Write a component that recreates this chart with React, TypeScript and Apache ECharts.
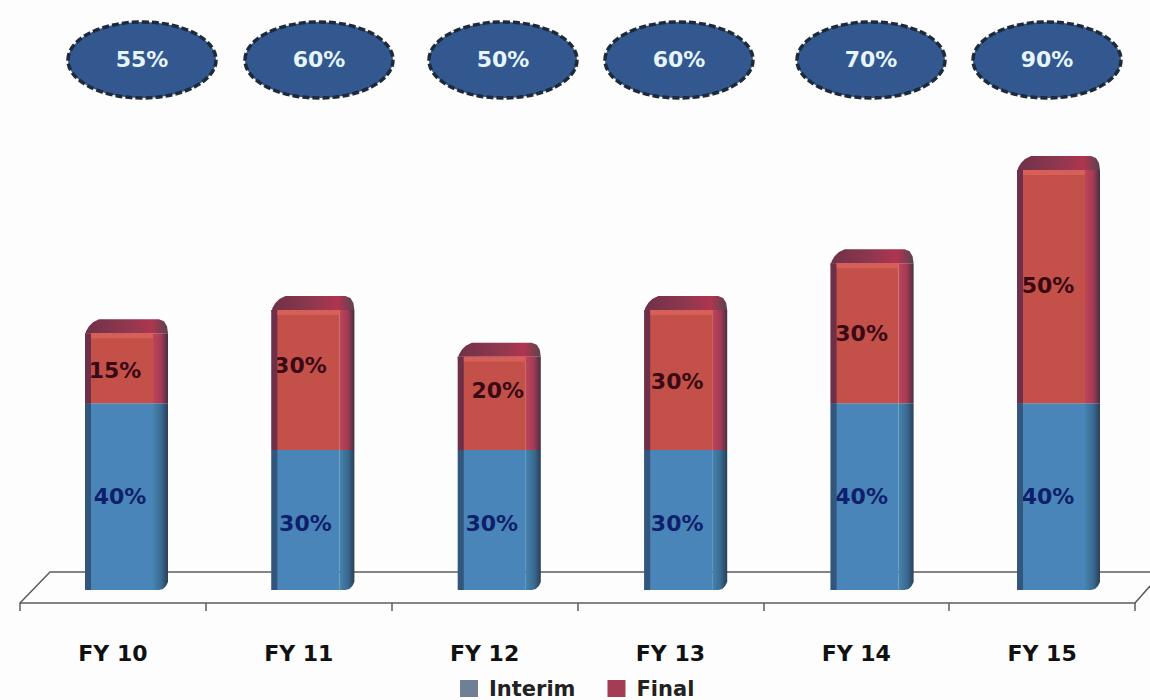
import React, { useEffect, useRef } from "react";
import * as echarts from "echarts";

const categories = ["FY 10", "FY 11", "FY 12", "FY 13", "FY 14", "FY 15"];
const interim = [40, 30, 30, 30, 40, 40];
const finalPay = [15, 30, 20, 30, 30, 50];
const totals = ["55%", "60%", "50%", "60%", "70%", "90%"];
const ovalCentres = [142, 319, 503, 679, 871, 1047];
const interimLabelShift = [[1, 0], [0, 3], [0, 3], [-1, 3], [-3, 0], [-3, 0]];
const finalLabelShift = [[-4, 2], [-5, -15], [6, -13], [-1, 1], [-3, 0], [-3, -1]];

const W = 1150;
const H = 700;
const FRONT = 68;
const SIDE = 15;
const CAP = 14;
const EDGE = 6;
const BLUE = "#4a85b9";
const RED = "#c4504a";

function sideFill(c1: string, c2: string, c3: string) {
  return new echarts.graphic.LinearGradient(0, 0, 1, 0, [
    { offset: 0, color: c1 },
    { offset: 0.55, color: c2 },
    { offset: 1, color: c3 },
  ]);
}

function renderBar3D(_p: any, api: any) {
  const i = api.value(0);
  const base = api.coord([i, 0]);
  const mid = api.coord([i, api.value(1)]);
  const top = api.coord([i, api.value(2)]);
  const x1 = base[0] - FRONT / 2;
  const x2 = base[0] + FRONT / 2;
  const xr = x2 + SIDE;
  const yt = top[1];
  const ym = mid[1];
  const yb = base[1];
  return {
    type: "group",
    children: [
      {
        type: "polygon",
        shape: {
          points: [
            [x2, ym], [xr, ym], [xr, yb - 8], [xr - 2, yb - 4], [xr - 5, yb - 1], [xr - 9, yb], [x2, yb],
          ],
        },
        style: { fill: sideFill("#4584ad", "#3a6a92", "#2a3f58") },
      },
      {
        type: "polygon",
        shape: { points: [[x2, yt], [xr, yt], [xr, ym], [x2, ym]] },
        style: { fill: sideFill("#bd4558", "#a43a55", "#46303f") },
      },
      {
        type: "polygon",
        shape: {
          points: [
            [x1, yt + 3], [x1 + 1, yt - 2], [x1 + 4, yt - 7], [x1 + 8, yt - 11], [x1 + 14, yt - CAP],
            [xr - 9, yt - CAP], [xr - 4, yt - 12], [xr - 1, yt - 7], [xr, yt], [x2, yt], [x1, yt],
          ],
        },
        style: {
          fill: new echarts.graphic.LinearGradient(0, 0, 1, 0, [
            { offset: 0, color: "#6f3148" },
            { offset: 0.55, color: "#93384f" },
            { offset: 0.8, color: "#b0344f" },
            { offset: 1, color: "#5a4450" },
          ]),
        },
      },
      {
        type: "rect",
        shape: { x: x1, y: ym, width: EDGE, height: yb - ym },
        style: { fill: "#33577c" },
      },
      {
        type: "rect",
        shape: { x: x1, y: yt, width: EDGE, height: ym - yt },
        style: { fill: "#6e3048" },
      },
      {
        type: "rect",
        shape: { x: x1 + EDGE, y: yt, width: FRONT - EDGE, height: 5 },
        style: { fill: "#d65f58" },
      },
    ],
  };
}

function buildFloor() {
  const line = { stroke: "#5c5c5c", lineWidth: 1.5 };
  return [
    { type: "polyline", z: 0, shape: { points: [[20, 603], [50, 572], [1150, 572]] }, style: { ...line, fill: "none" } },
    { type: "line", z: 0, shape: { x1: 1135, y1: 603, x2: 1150, y2: 586 }, style: line },
  ];
}

function buildOvals() {
  return ovalCentres.flatMap((cx, i) => [
    {
      type: "ellipse",
      z: 5,
      shape: { cx, cy: 60, rx: 74, ry: 38 },
      style: { fill: "#33588f", stroke: "#1e2a3a", lineWidth: 3.5, lineDash: [7, 3] },
    },
    {
      type: "text",
      z: 6,
      x: cx,
      y: 59,
      style: {
        text: totals[i],
        fill: "#e6f5fb",
        font: "bold 22px 'DejaVu Sans'",
        align: "center",
        verticalAlign: "middle",
      },
    },
  ]);
}

function labelled(values: number[], shifts: number[][], color: string, fill: string) {
  return values.map((value, i) => ({
    value,
    itemStyle: { color: fill },
    label: {
      show: true,
      position: "inside",
      offset: shifts[i],
      formatter: "{c}%",
      color,
      fontFamily: "DejaVu Sans",
      fontWeight: "bold",
      fontSize: 22,
    },
  }));
}

export default function App() {
  const ref = useRef<HTMLDivElement>(null);
  useEffect(() => {
    if (!ref.current) return;
    const chart = echarts.init(ref.current, undefined, { renderer: "svg" });
    chart.setOption({
      animation: false,
      backgroundColor: "#fdfdfd",
      grid: [
        { left: 20, right: 15, top: 120, bottom: H - 603 },
        { left: 25.8, width: 1118.4, top: 170, bottom: H - 590 },
      ],
      xAxis: [
        {
          type: "category",
          gridIndex: 0,
          data: categories,
          axisLine: { lineStyle: { color: "#5c5c5c", width: 1.5 } },
          axisTick: { show: true, length: 8, lineStyle: { color: "#5c5c5c", width: 1.5 } },
          axisLabel: {
            margin: 39,
            color: "#111111",
            fontFamily: "DejaVu Sans",
            fontWeight: "bold",
            fontSize: 22,
          },
        },
        { type: "category", gridIndex: 1, data: categories, show: false },
      ],
      yAxis: [
        { type: "value", gridIndex: 0, show: false, min: 0, max: 100 },
        { type: "value", gridIndex: 1, show: false, min: 0, max: 90 },
      ],
      legend: {
        left: 455,
        top: 678,
        padding: [0, 5, 0, 5],
        itemWidth: 18,
        itemHeight: 17,
        itemGap: 32,
        icon: "rect",
        textStyle: {
          color: "#222222",
          fontFamily: "DejaVu Sans",
          fontWeight: "bold",
          fontSize: 21,
          padding: [0, 0, 0, 6],
        },
        data: [
          { name: "Interim", itemStyle: { color: "#6f7f95" } },
          { name: "Final", itemStyle: { color: "#a33d55" } },
        ],
      },
      graphic: { elements: [...buildFloor(), ...buildOvals()] },
      series: [
        {
          type: "custom",
          xAxisIndex: 1,
          yAxisIndex: 1,
          z: 3,
          silent: true,
          renderItem: renderBar3D,
          encode: { x: 0, y: [1, 2] },
          data: categories.map((_, i) => [i, interim[i], interim[i] + finalPay[i]]),
        },
        {
          name: "Interim",
          type: "bar",
          stack: "dps",
          xAxisIndex: 1,
          yAxisIndex: 1,
          barWidth: FRONT,
          z: 2,
          itemStyle: { color: BLUE },
          data: labelled(interim, interimLabelShift, "#0e1f6b", BLUE),
        },
        {
          name: "Final",
          type: "bar",
          stack: "dps",
          xAxisIndex: 1,
          yAxisIndex: 1,
          barWidth: FRONT,
          z: 2,
          itemStyle: { color: RED },
          data: labelled(finalPay, finalLabelShift, "#3a0a14", RED),
        },
      ],
    });
    return () => chart.dispose();
  }, []);
  return <div ref={ref} style={{ width: W, height: H, position: "absolute", left: 0, top: 0 }} />;
}
